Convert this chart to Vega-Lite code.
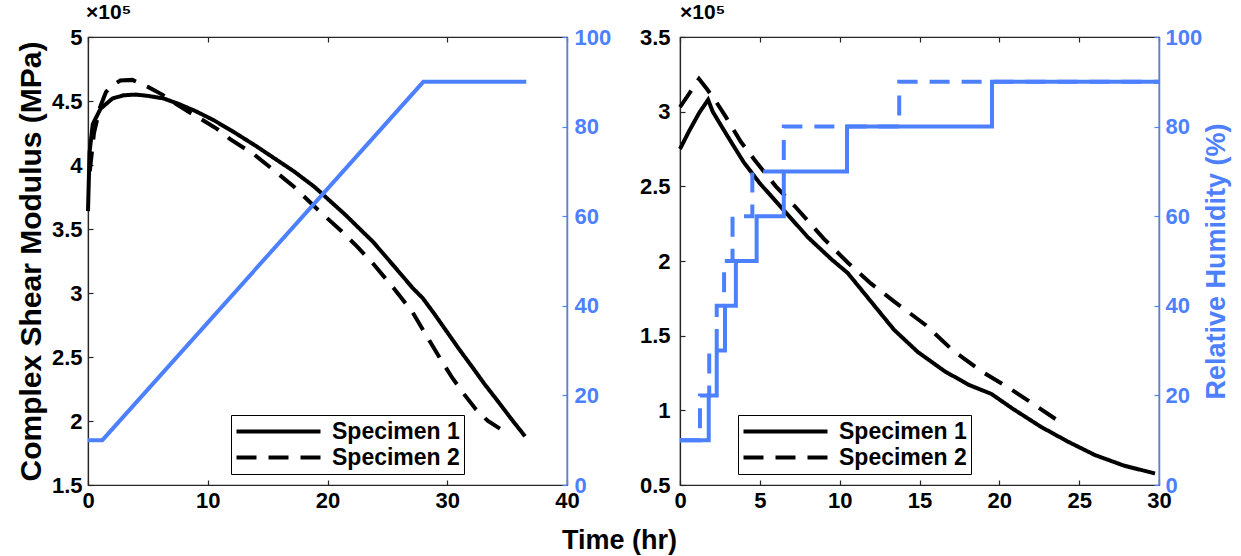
{
  "$schema": "https://vega.github.io/schema/vega-lite/v6.json",
  "background": "white",
  "padding": {"left": 15, "top": 1, "right": 4, "bottom": 4},
  "spacing": 113,
  "bounds": "flush",
  "datasets": {
    "left_mod": [
      {"t": 0, "g": 3.64, "specimen": "Specimen 1"},
      {"t": 0.13, "g": 4.1, "specimen": "Specimen 1"},
      {"t": 0.4, "g": 4.32, "specimen": "Specimen 1"},
      {"t": 1.05, "g": 4.44, "specimen": "Specimen 1"},
      {"t": 2.05, "g": 4.52, "specimen": "Specimen 1"},
      {"t": 3, "g": 4.545, "specimen": "Specimen 1"},
      {"t": 4, "g": 4.55, "specimen": "Specimen 1"},
      {"t": 5, "g": 4.54, "specimen": "Specimen 1"},
      {"t": 6.3, "g": 4.52, "specimen": "Specimen 1"},
      {"t": 7.5, "g": 4.48, "specimen": "Specimen 1"},
      {"t": 9, "g": 4.42, "specimen": "Specimen 1"},
      {"t": 10.5, "g": 4.35, "specimen": "Specimen 1"},
      {"t": 12.3, "g": 4.25, "specimen": "Specimen 1"},
      {"t": 14, "g": 4.15, "specimen": "Specimen 1"},
      {"t": 15.6, "g": 4.05, "specimen": "Specimen 1"},
      {"t": 17.2, "g": 3.95, "specimen": "Specimen 1"},
      {"t": 18.9, "g": 3.83, "specimen": "Specimen 1"},
      {"t": 20.2, "g": 3.72, "specimen": "Specimen 1"},
      {"t": 21.5, "g": 3.61, "specimen": "Specimen 1"},
      {"t": 22.7, "g": 3.5, "specimen": "Specimen 1"},
      {"t": 23.8, "g": 3.4, "specimen": "Specimen 1"},
      {"t": 25, "g": 3.27, "specimen": "Specimen 1"},
      {"t": 26.1, "g": 3.15, "specimen": "Specimen 1"},
      {"t": 27.1, "g": 3.04, "specimen": "Specimen 1"},
      {"t": 27.95, "g": 2.96, "specimen": "Specimen 1"},
      {"t": 28.9, "g": 2.84, "specimen": "Specimen 1"},
      {"t": 29.8, "g": 2.72, "specimen": "Specimen 1"},
      {"t": 31, "g": 2.56, "specimen": "Specimen 1"},
      {"t": 32.1, "g": 2.42, "specimen": "Specimen 1"},
      {"t": 33.1, "g": 2.29, "specimen": "Specimen 1"},
      {"t": 34.1, "g": 2.17, "specimen": "Specimen 1"},
      {"t": 35.4, "g": 2.01, "specimen": "Specimen 1"},
      {"t": 36.5, "g": 1.88, "specimen": "Specimen 1"},
      {"t": 0.15, "g": 3.95, "specimen": "Specimen 2"},
      {"t": 0.5, "g": 4.25, "specimen": "Specimen 2"},
      {"t": 1, "g": 4.45, "specimen": "Specimen 2"},
      {"t": 1.5, "g": 4.57, "specimen": "Specimen 2"},
      {"t": 2, "g": 4.62, "specimen": "Specimen 2"},
      {"t": 2.7, "g": 4.66, "specimen": "Specimen 2"},
      {"t": 3.7, "g": 4.665, "specimen": "Specimen 2"},
      {"t": 5, "g": 4.61, "specimen": "Specimen 2"},
      {"t": 6.2, "g": 4.55, "specimen": "Specimen 2"},
      {"t": 7.3, "g": 4.48, "specimen": "Specimen 2"},
      {"t": 8.5, "g": 4.41, "specimen": "Specimen 2"},
      {"t": 9.6, "g": 4.35, "specimen": "Specimen 2"},
      {"t": 10.8, "g": 4.28, "specimen": "Specimen 2"},
      {"t": 11.9, "g": 4.2, "specimen": "Specimen 2"},
      {"t": 13.9, "g": 4.08, "specimen": "Specimen 2"},
      {"t": 15.5, "g": 3.96, "specimen": "Specimen 2"},
      {"t": 17.2, "g": 3.83, "specimen": "Specimen 2"},
      {"t": 19.2, "g": 3.65, "specimen": "Specimen 2"},
      {"t": 21.2, "g": 3.48, "specimen": "Specimen 2"},
      {"t": 22.5, "g": 3.36, "specimen": "Specimen 2"},
      {"t": 23.8, "g": 3.23, "specimen": "Specimen 2"},
      {"t": 25.5, "g": 3.04, "specimen": "Specimen 2"},
      {"t": 27.1, "g": 2.85, "specimen": "Specimen 2"},
      {"t": 28.3, "g": 2.66, "specimen": "Specimen 2"},
      {"t": 29.4, "g": 2.49, "specimen": "Specimen 2"},
      {"t": 30.4, "g": 2.34, "specimen": "Specimen 2"},
      {"t": 31.4, "g": 2.21, "specimen": "Specimen 2"},
      {"t": 32.4, "g": 2.09, "specimen": "Specimen 2"},
      {"t": 33.4, "g": 2.0, "specimen": "Specimen 2"},
      {"t": 34.4, "g": 1.94, "specimen": "Specimen 2"}
    ],
    "left_rh": [
      {"t": 0, "rh": 10},
      {"t": 1.2, "rh": 10},
      {"t": 28, "rh": 90},
      {"t": 36.6, "rh": 90}
    ],
    "right_mod": [
      {"t": 0, "g": 2.75, "specimen": "Specimen 1"},
      {"t": 0.57, "g": 2.87, "specimen": "Specimen 1"},
      {"t": 1.19, "g": 2.99, "specimen": "Specimen 1"},
      {"t": 1.76, "g": 3.08, "specimen": "Specimen 1"},
      {"t": 2.05, "g": 3.0, "specimen": "Specimen 1"},
      {"t": 2.67, "g": 2.89, "specimen": "Specimen 1"},
      {"t": 3.3, "g": 2.78, "specimen": "Specimen 1"},
      {"t": 4.0, "g": 2.66, "specimen": "Specimen 1"},
      {"t": 5.0, "g": 2.52, "specimen": "Specimen 1"},
      {"t": 6.5, "g": 2.34, "specimen": "Specimen 1"},
      {"t": 8.0, "g": 2.16, "specimen": "Specimen 1"},
      {"t": 9.5, "g": 2.01, "specimen": "Specimen 1"},
      {"t": 10.5, "g": 1.92, "specimen": "Specimen 1"},
      {"t": 11.95, "g": 1.73, "specimen": "Specimen 1"},
      {"t": 13.4, "g": 1.54, "specimen": "Specimen 1"},
      {"t": 14.9, "g": 1.39, "specimen": "Specimen 1"},
      {"t": 16.6, "g": 1.26, "specimen": "Specimen 1"},
      {"t": 18.1, "g": 1.17, "specimen": "Specimen 1"},
      {"t": 19.5, "g": 1.11, "specimen": "Specimen 1"},
      {"t": 20.85, "g": 1.01, "specimen": "Specimen 1"},
      {"t": 22.6, "g": 0.89, "specimen": "Specimen 1"},
      {"t": 24.3, "g": 0.79, "specimen": "Specimen 1"},
      {"t": 26.0, "g": 0.7, "specimen": "Specimen 1"},
      {"t": 27.8, "g": 0.63, "specimen": "Specimen 1"},
      {"t": 29.75, "g": 0.577, "specimen": "Specimen 1"},
      {"t": 0, "g": 3.03, "specimen": "Specimen 2"},
      {"t": 0.57, "g": 3.12, "specimen": "Specimen 2"},
      {"t": 1.19, "g": 3.22, "specimen": "Specimen 2"},
      {"t": 1.7, "g": 3.15, "specimen": "Specimen 2"},
      {"t": 2.3, "g": 3.06, "specimen": "Specimen 2"},
      {"t": 2.9, "g": 2.96, "specimen": "Specimen 2"},
      {"t": 3.8, "g": 2.8, "specimen": "Specimen 2"},
      {"t": 4.65, "g": 2.68, "specimen": "Specimen 2"},
      {"t": 6.0, "g": 2.5, "specimen": "Specimen 2"},
      {"t": 7.25, "g": 2.36, "specimen": "Specimen 2"},
      {"t": 9.0, "g": 2.15, "specimen": "Specimen 2"},
      {"t": 10.5, "g": 1.99, "specimen": "Specimen 2"},
      {"t": 11.95, "g": 1.85, "specimen": "Specimen 2"},
      {"t": 13.4, "g": 1.73, "specimen": "Specimen 2"},
      {"t": 15.4, "g": 1.57, "specimen": "Specimen 2"},
      {"t": 17.1, "g": 1.4, "specimen": "Specimen 2"},
      {"t": 18.9, "g": 1.26, "specimen": "Specimen 2"},
      {"t": 20.6, "g": 1.15, "specimen": "Specimen 2"},
      {"t": 22.3, "g": 1.03, "specimen": "Specimen 2"},
      {"t": 24.1, "g": 0.9, "specimen": "Specimen 2"}
    ],
    "right_rh": [
      {"t": 0, "rh": 10, "specimen": "Specimen 1"},
      {"t": 1.8, "rh": 20, "specimen": "Specimen 1"},
      {"t": 2.3, "rh": 30, "specimen": "Specimen 1"},
      {"t": 2.82, "rh": 40, "specimen": "Specimen 1"},
      {"t": 3.5, "rh": 50, "specimen": "Specimen 1"},
      {"t": 4.8, "rh": 60, "specimen": "Specimen 1"},
      {"t": 6.5, "rh": 70, "specimen": "Specimen 1"},
      {"t": 10.46, "rh": 80, "specimen": "Specimen 1"},
      {"t": 19.54, "rh": 90, "specimen": "Specimen 1"},
      {"t": 30, "rh": 90, "specimen": "Specimen 1"},
      {"t": 0, "rh": 10, "specimen": "Specimen 2"},
      {"t": 1.25, "rh": 20, "specimen": "Specimen 2"},
      {"t": 1.83, "rh": 30, "specimen": "Specimen 2"},
      {"t": 2.3, "rh": 40, "specimen": "Specimen 2"},
      {"t": 2.76, "rh": 50, "specimen": "Specimen 2"},
      {"t": 3.29, "rh": 60, "specimen": "Specimen 2"},
      {"t": 4.53, "rh": 70, "specimen": "Specimen 2"},
      {"t": 6.5, "rh": 80, "specimen": "Specimen 2"},
      {"t": 13.73, "rh": 90, "specimen": "Specimen 2"},
      {"t": 30, "rh": 90, "specimen": "Specimen 2"}
    ]
  },
  "hconcat": [
    {
      "width": 479,
      "height": 448,
      "title": {"text": "×10⁵", "anchor": "start", "frame": "group", "fontSize": 21, "fontWeight": "bold", "color": "black", "offset": 3, "dx": -2},
      "layer": [
        {
          "data": {"name": "left_mod"},
          "mark": {"type": "line", "color": "black", "strokeWidth": 4},
          "encoding": {
            "x": {"field": "t", "type": "quantitative", "scale": {"domain": [0, 40], "nice": false},
              "axis": {"orient": "bottom", "values": [0, 10, 20, 30, 40], "labelPadding": 10, "title": "Time (hr)", "titleFontSize": 27, "titleX": 531, "titleY": 63, "titleBaseline": "alphabetic", "titleAlign": "center"}},
            "y": {"field": "g", "type": "quantitative", "scale": {"domain": [1.5, 5], "nice": false, "zero": false},
              "axis": {"orient": "left", "values": [1.5, 2, 2.5, 3, 3.5, 4, 4.5, 5], "format": "~g", "labelPadding": 11, "title": "Complex Shear Modulus (MPa)", "titleFontSize": 30, "titlePadding": 5}},
            "strokeDash": {"field": "specimen", "type": "nominal",
              "scale": {"domain": ["Specimen 1", "Specimen 2"], "range": [[1, 0], [20, 12]]},
              "legend": {"legendX": 143, "legendY": 378}}
          }
        },
        {
          "data": {"name": "left_rh"},
          "mark": {"type": "line", "color": "#4d80ff", "strokeWidth": 4},
          "encoding": {
            "x": {"field": "t", "type": "quantitative", "scale": {"domain": [0, 40], "nice": false},
              "axis": {"orient": "top", "values": [0, 10, 20, 30, 40], "labels": false, "title": null, "domain": false}},
            "y": {"field": "rh", "type": "quantitative", "scale": {"domain": [0, 100], "nice": false},
              "axis": {"orient": "right", "values": [0, 20, 40, 60, 80, 100], "labelPadding": 12, "title": null, "labelColor": "#4d80ff", "domainColor": "#4d80ff", "tickColor": "#4d80ff", "domainWidth": 1.5}}
          }
        }
      ],
      "resolve": {"scale": {"x": "independent", "y": "independent"}}
    },
    {
      "width": 479,
      "height": 448,
      "title": {"text": "×10⁵", "anchor": "start", "frame": "group", "fontSize": 21, "fontWeight": "bold", "color": "black", "offset": 3, "dx": 0},
      "layer": [
        {
          "data": {"name": "right_mod"},
          "mark": {"type": "line", "color": "black", "strokeWidth": 4},
          "encoding": {
            "x": {"field": "t", "type": "quantitative", "scale": {"domain": [0, 30], "nice": false},
              "axis": {"orient": "bottom", "values": [0, 5, 10, 15, 20, 25, 30], "labelPadding": 10, "title": null}},
            "y": {"field": "g", "type": "quantitative", "scale": {"domain": [0.5, 3.5], "nice": false, "zero": false},
              "axis": {"orient": "left", "values": [0.5, 1, 1.5, 2, 2.5, 3, 3.5], "format": "~g", "labelPadding": 15, "title": null}},
            "strokeDash": {"field": "specimen", "type": "nominal",
              "scale": {"domain": ["Specimen 1", "Specimen 2"], "range": [[1, 0], [20, 12]]},
              "legend": {"legendX": 58, "legendY": 378}}
          }
        },
        {
          "data": {"name": "right_rh"},
          "mark": {"type": "line", "color": "#4d80ff", "strokeWidth": 4, "interpolate": "step-after"},
          "encoding": {
            "x": {"field": "t", "type": "quantitative", "scale": {"domain": [0, 30], "nice": false},
              "axis": {"orient": "top", "values": [0, 5, 10, 15, 20, 25, 30], "labels": false, "title": null, "domain": false}},
            "y": {"field": "rh", "type": "quantitative", "scale": {"domain": [0, 100], "nice": false},
              "axis": {"orient": "right", "values": [0, 20, 40, 60, 80, 100], "labelPadding": 11, "title": "Relative Humidity (%)", "titleFontSize": 27, "titleColor": "#4d80ff", "titleAngle": -90, "titleBaseline": "top", "titlePadding": 2, "labelColor": "#4d80ff", "domainColor": "#4d80ff", "tickColor": "#4d80ff", "domainWidth": 1.5}},
            "strokeDash": {"field": "specimen", "type": "nominal",
              "scale": {"domain": ["Specimen 1", "Specimen 2"], "range": [[1, 0], [20, 12]]},
              "legend": null}
          }
        }
      ],
      "resolve": {"scale": {"x": "independent", "y": "independent", "strokeDash": "independent"}}
    }
  ],
  "config": {
    "font": "Liberation Sans",
    "view": {"stroke": "#262626", "strokeWidth": 1.2},
    "axis": {"grid": false, "labelFontSize": 22, "labelFontWeight": "bold", "labelColor": "black", "titleFontWeight": "bold", "titleColor": "black", "domainColor": "#262626", "tickColor": "#262626", "tickSize": -5, "tickWidth": 1.2, "domainWidth": 1.2, "labelFlush": false, "labelOverlap": false},
    "legend": {"orient": "none", "title": null, "symbolType": "M-4,0H4", "symbolSize": 441, "symbolStrokeWidth": 4, "symbolStrokeColor": "black", "symbolOffset": 31, "labelOffset": 41, "labelFontSize": 23, "labelFontWeight": "bold", "labelColor": "black", "strokeColor": "black", "fillColor": "white", "padding": 4, "rowPadding": 1}
  }
}
